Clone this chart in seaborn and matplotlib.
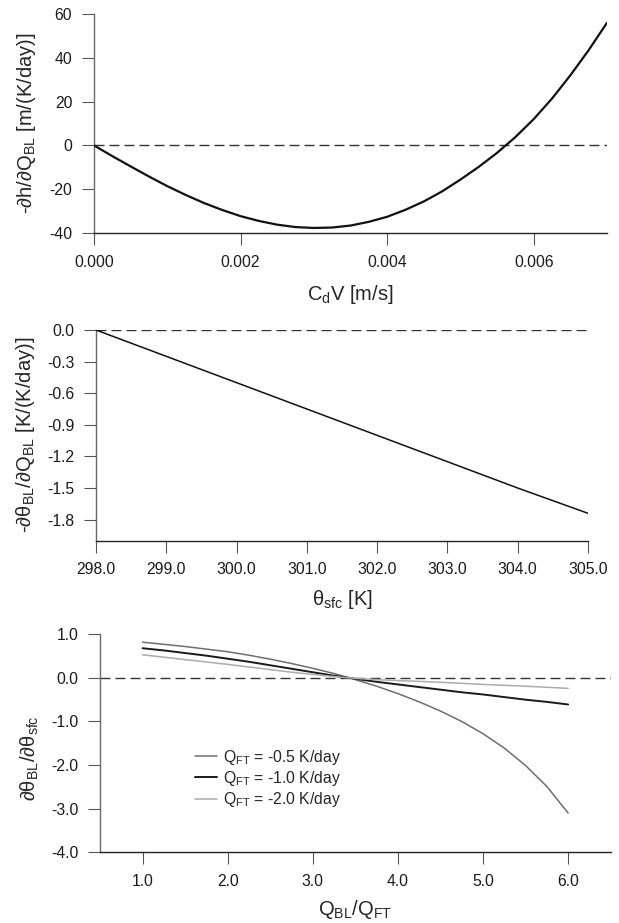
import numpy as np
import pandas as pd
import matplotlib
matplotlib.use("Agg")
import matplotlib.pyplot as plt
from matplotlib.ticker import FixedLocator, FixedFormatter
import seaborn as sns

# ---- data -------------------------------------------------------------
# Panel (a): BL height sensitivity vs. surface exchange coefficient
cdv = [0.0000, 0.00025, 0.0005, 0.00075, 0.0010, 0.00125, 0.0015, 0.00175,
       0.0020, 0.00225, 0.0025, 0.00275, 0.0030, 0.00325, 0.0035, 0.00375,
       0.0040, 0.00425, 0.0045, 0.00475, 0.0050, 0.00525, 0.0055, 0.00575,
       0.0060, 0.00625, 0.0065, 0.00675, 0.0070]
dh_dq = [0.0, -4.9, -9.6, -14.2, -18.6, -22.6, -26.3, -29.5,
         -32.3, -34.5, -36.2, -37.3, -37.7, -37.5, -36.6, -34.9,
         -32.6, -29.4, -25.6, -21.0, -15.6, -9.8, -3.4, 3.8,
         12.0, 21.4, 32.0, 43.5, 56.0]

# Panel (b): BL temperature sensitivity vs. surface temperature
theta_sfc = [298.0, 299.0, 300.0, 301.0, 302.0, 303.0, 304.0, 305.0]
dtheta_dq = [0.0, -0.25, -0.50, -0.75, -1.00, -1.25, -1.50, -1.74]

# Panel (c): dθBL/dθsfc vs. heating ratio for three free-tropospheric coolings
q_ratio = [1.0, 1.25, 1.5, 1.75, 2.0, 2.25, 2.5, 2.75, 3.0, 3.25, 3.5,
           3.75, 4.0, 4.25, 4.5, 4.75, 5.0, 5.25, 5.5, 5.75, 6.0]
resp_q05 = [0.82, 0.77, 0.72, 0.66, 0.60, 0.52, 0.43, 0.33, 0.22, 0.10, -0.04,
            -0.19, -0.36, -0.55, -0.76, -1.00, -1.28, -1.61, -2.01, -2.49, -3.10]
resp_q10 = [0.68, 0.63, 0.57, 0.51, 0.44, 0.37, 0.29, 0.21, 0.13, 0.05, -0.02,
            -0.09, -0.15, -0.21, -0.27, -0.33, -0.38, -0.44, -0.50, -0.55, -0.61]
resp_q20 = [0.53, 0.475, 0.42, 0.365, 0.31, 0.25, 0.19, 0.13, 0.08, 0.03, -0.01,
            -0.04, -0.06, -0.08, -0.10, -0.125, -0.15, -0.17, -0.19, -0.215, -0.24]
series_labels = [r"Q$_{\mathregular{FT}}$ = -0.5 K/day",
                 r"Q$_{\mathregular{FT}}$ = -1.0 K/day",
                 r"Q$_{\mathregular{FT}}$ = -2.0 K/day"]

# tick positions / labels
a_xticks = [0.000, 0.002, 0.004, 0.006]
a_xlabels = ["0.000", "0.002", "0.004", "0.006"]
a_yticks = [60, 40, 20, 0, -20, -40]
a_ylabels = ["60", "40", "20", "0", "-20", "-40"]
b_xticks = [298, 299, 300, 301, 302, 303, 304, 305]
b_xlabels = ["298.0", "299.0", "300.0", "301.0", "302.0", "303.0", "304.0", "305.0"]
b_yticks = [0.0, -0.3, -0.6, -0.9, -1.2, -1.5, -1.8]
b_ylabels = ["0.0", "-0.3", "-0.6", "-0.9", "-1.2", "-1.5", "-1.8"]
c_xticks = [1, 2, 3, 4, 5, 6]
c_xlabels = ["1.0", "2.0", "3.0", "4.0", "5.0", "6.0"]
c_yticks = [1, 0, -1, -2, -3, -4]
c_ylabels = ["1.0", "0.0", "-1.0", "-2.0", "-3.0", "-4.0"]

# ---- style ------------------------------------------------------------
sns.set_theme(style="ticks")
plt.rcParams["font.family"] = ["Liberation Sans", "DejaVu Sans"]
plt.rcParams["mathtext.fontset"] = "custom"
plt.rcParams["mathtext.rm"] = "Liberation Sans"
plt.rcParams["mathtext.it"] = "Liberation Sans:italic"
plt.rcParams["mathtext.bf"] = "Liberation Sans:bold"
plt.rcParams["axes.unicode_minus"] = False

TICK_FS = 11.3
LABEL_FS = 14.5
DASH = (0, (7.2, 3.6))

fig = plt.figure(figsize=(6.19, 9.23), dpi=100)
W, H = 619.0, 923.0


def make_axes(x0, x1, ytop, ybot):
    return fig.add_axes([x0 / W, 1 - ybot / H, (x1 - x0) / W, (ybot - ytop) / H])


def style_axes(ax, xt, xl, yt, yl):
    for s in ("top", "right"):
        ax.spines[s].set_visible(False)
    ax.spines["left"].set_color("#6a6a6a")
    ax.spines["bottom"].set_color("#222222")
    ax.spines["left"].set_linewidth(1.0)
    ax.spines["bottom"].set_linewidth(1.0)
    ax.xaxis.set_major_locator(FixedLocator(xt))
    ax.xaxis.set_major_formatter(FixedFormatter(xl))
    ax.yaxis.set_major_locator(FixedLocator(yt))
    ax.yaxis.set_major_formatter(FixedFormatter(yl))
    ax.tick_params(axis="both", direction="out", length=8.6, width=0.8,
                   color="#555555", labelsize=TICK_FS, labelcolor="#1a1a1a", pad=7)
    ax.set_facecolor("white")
    ax.grid(False)


# ---- panel (a) ----------------------------------------------------------
ax1 = make_axes(94, 607, 14, 233)
ax1.axhline(0, color="#333333", lw=1.0, ls=DASH, zorder=1)
sns.lineplot(x=cdv, y=dh_dq, ax=ax1, color="#111111", lw=1.6, zorder=3)
ax1.set_xlim(0, 0.007)
ax1.set_ylim(-40, 60)
style_axes(ax1, a_xticks, a_xlabels, a_yticks, a_ylabels)
ax1.set_xlabel(r"C$_{\mathregular{d}}$V [m/s]", fontsize=LABEL_FS, va="center")
ax1.set_ylabel(r"-∂h/∂Q$_{\mathregular{BL}}$ [m/(K/day)]", fontsize=LABEL_FS, va="center")
ax1.xaxis.set_label_coords(0.5, -0.283)
ax1.yaxis.set_label_coords(-0.131, 0.5)

# ---- panel (b) ----------------------------------------------------------
ax2 = make_axes(96, 588, 330, 540.7)
ax2.axhline(0, color="#333333", lw=1.0, ls=DASH, zorder=1)
sns.lineplot(x=theta_sfc, y=dtheta_dq, ax=ax2, color="#111111", lw=1.1, zorder=3)
ax2.set_xlim(298, 305)
ax2.set_ylim(-2.0, 0.0)
style_axes(ax2, b_xticks, b_xlabels, b_yticks, b_ylabels)
ax2.set_xlabel(r"θ$_{\mathregular{sfc}}$ [K]", fontsize=LABEL_FS, va="center")
ax2.set_ylabel(r"-∂θ$_{\mathregular{BL}}$/∂Q$_{\mathregular{BL}}$ [K/(K/day)]",
               fontsize=LABEL_FS, va="center")
ax2.xaxis.set_label_coords(0.5, -0.277)
ax2.yaxis.set_label_coords(-0.144, 0.5)

# ---- panel (c) ----------------------------------------------------------
ax3 = make_axes(100, 610.7, 634.3, 852.3)
ax3.axhline(0, color="#333333", lw=1.0, ls=DASH, zorder=1)
for vals, col, lw, lab in zip([resp_q05, resp_q10, resp_q20],
                              ["#6e6e6e", "#1a1a1a", "#ababab"],
                              [1.1, 1.4, 1.1], series_labels):
    sns.lineplot(x=q_ratio, y=vals, ax=ax3, color=col, lw=lw, label=lab, zorder=3)
ax3.set_xlim(0.5, 6.5)
ax3.set_ylim(-4.0, 1.0)
style_axes(ax3, c_xticks, c_xlabels, c_yticks, c_ylabels)
ax3.set_xlabel(r"Q$_{\mathregular{BL}}$/Q$_{\mathregular{FT}}$", fontsize=LABEL_FS, va="center")
ax3.set_ylabel(r"∂θ$_{\mathregular{BL}}$/∂θ$_{\mathregular{sfc}}$", fontsize=LABEL_FS, va="center")
ax3.xaxis.set_label_coords(0.5, -0.262)
ax3.yaxis.set_label_coords(-0.137, 0.433)
ax3.legend(loc="center left", bbox_to_anchor=(0.186, 0.339), frameon=False,
           fontsize=TICK_FS, handlelength=1.4, handletextpad=0.4,
           labelspacing=0.15, borderpad=0, borderaxespad=0)

fig.savefig("out.png", dpi=100, facecolor="white")
